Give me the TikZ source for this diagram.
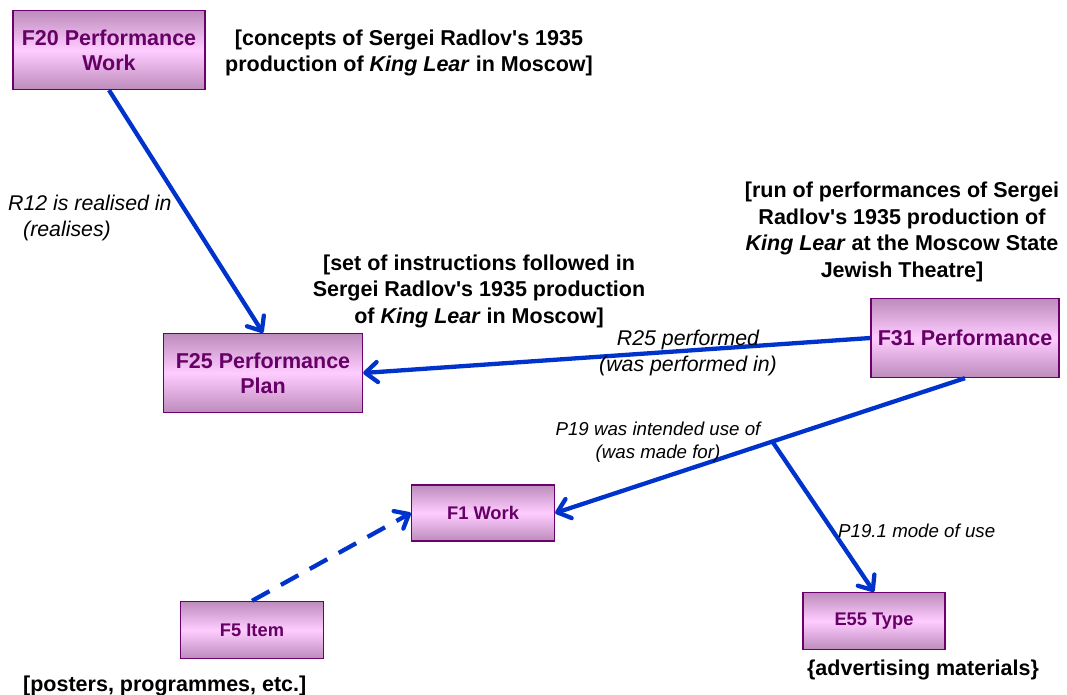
\documentclass[tikz,border=0pt]{standalone}
\usepackage{fontspec}
\setmainfont{Liberation Sans}[Ligatures=TeXOff]
\usetikzlibrary{arrows.meta,calc}
\definecolor{boxedge}{RGB}{188,140,188}
\definecolor{boxmid}{RGB}{255,204,255}
\definecolor{boxline}{RGB}{110,0,110}
\definecolor{boxtext}{RGB}{102,0,102}
\definecolor{linkblue}{RGB}{0,51,204}
\begin{document}
\begin{tikzpicture}[x=1pt,y=-1pt,
  box/.style={draw=boxline, line width=1.3pt, top color=boxedge, bottom color=boxedge, middle color=boxmid,
    text=boxtext, align=center, inner sep=0pt, font=\fontsize{21.5}{25}\selectfont\bfseries},
  smallbox/.style={box, font=\fontsize{18.3}{22}\selectfont\bfseries},
  link/.style={draw=linkblue, line width=4.3pt, -{Straight Barb[length=12pt,width=20pt,round]}},
  blabel/.style={align=center, inner sep=0pt, font=\fontsize{21.5}{26.5}\selectfont\bfseries},
  ilabel/.style={align=center, inner sep=0pt, font=\fontsize{21.3}{26.5}\selectfont\itshape},
  slabel/.style={align=center, inner sep=0pt, font=\fontsize{18.7}{23}\selectfont\itshape}]
\useasboundingbox (0,0) rectangle (1067,695);

\node[box, minimum width=192pt, minimum height=79pt] (f20) at (109,50) {F20 Performance\\Work};
\node[box, minimum width=199pt, minimum height=79pt] (f25) at (263,373) {F25 Performance\\Plan};
\node[box, minimum width=188pt, minimum height=79pt] (f31) at (965,338) {F31 Performance};
\node[smallbox, minimum width=143pt, minimum height=56pt] (f1) at (483,513) {F1 Work};
\node[smallbox, minimum width=143pt, minimum height=57pt] (f5) at (252,630) {F5 Item};
\node[smallbox, minimum width=142pt, minimum height=57pt] (e55) at (874,621) {E55 Type};

\draw[link] (f20.south) -- (f25.north);
\draw[link] (f31.west) -- (f25.east);
\draw[link] (f31.south) -- (f1.east);
\coordinate (j) at ($(f31.south)!0.47!(f1.east)$);
\draw[link] (j) -- (e55.north);
\draw[link, dash pattern=on 20pt off 13pt] (f5.north) -- (f1.west);

\node[blabel] (lconc) at (409,53) {[concepts of Sergei Radlov's 1935\\production of \textit{King Lear} in Moscow]};
\node[blabel] (lrun) at (902,232) {[run of performances of Sergei\\Radlov's 1935 production of\\\textit{King Lear} at the Moscow State\\Jewish Theatre]};
\node[blabel] (lset) at (479,291) {[set of instructions followed in\\Sergei Radlov's 1935 production\\of \textit{King Lear} in Moscow]};
\node[blabel, anchor=base west] (lpost) at (23,691) {[posters, programmes, etc.]};
\node[blabel, anchor=base] (ladv) at (923,675) {\{advertising materials\}};

\node[ilabel, align=left, anchor=west] (lr12) at (8,218) {R12 is realised in\\\hspace*{15pt}(realises)};
\node[ilabel] (lr25) at (688,353) {R25 performed\\(was performed in)};
\node[slabel] (lp19) at (658,442) {P19 was intended use of\\(was made for)};
\node[slabel, anchor=base west] (lp191) at (838,537) {P19.1 mode of use};
\end{tikzpicture}
\end{document}
